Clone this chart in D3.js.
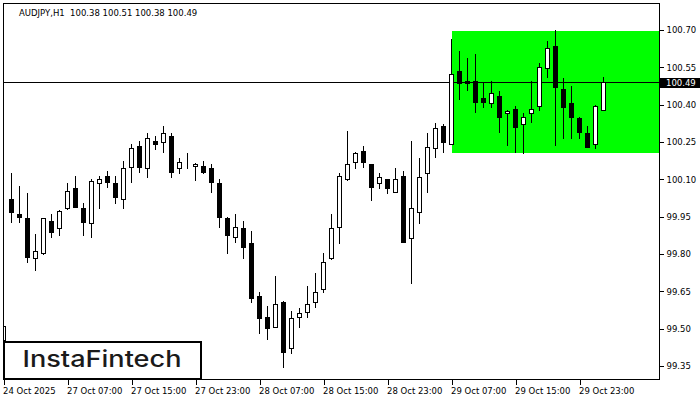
<!DOCTYPE html>
<html>
<head>
<meta charset="utf-8">
<script src="https://cdn.jsdelivr.net/npm/d3@7/dist/d3.min.js"></script>
<style>
  html, body { margin: 0; padding: 0; background: #ffffff; }
  svg { display: block; }
</style>
</head>
<body>
<div id="chart"></div>
<script>
// ---------- data ----------
const symbolTitle = "AUDJPY,H1  100.38 100.51 100.38 100.49";
const opens  = [99.455,100.020,99.961,99.945,99.783,99.803,99.933,99.903,99.984,100.064,
                99.984,99.923,100.084,100.113,100.084,100.020,100.151,100.234,100.144,100.254,
                100.251,100.274,100.144,100.161,100.154,100.154,100.144,100.084,99.943,99.870,
                99.903,99.843,99.631,99.548,99.508,99.608,99.421,99.548,99.568,99.608,
                99.658,99.783,99.910,100.100,100.171,100.214,100.160,100.084,100.100,100.050,
                100.113,99.863,99.970,100.124,100.225,100.314,100.241,100.535,100.494,100.494,
                100.427,100.405,100.435,100.365,100.381,100.321,100.365,100.395,100.546,100.636,
                100.462,100.405,100.345,100.285,100.241,100.38];
const highs  = [99.520,100.127,100.073,100.046,99.880,99.945,99.961,99.975,100.087,100.113,
                100.006,100.100,100.113,100.134,100.113,100.174,100.242,100.254,100.285,100.274,
                100.314,100.285,100.185,100.205,100.165,100.174,100.162,100.100,99.950,99.961,
                99.933,99.892,99.649,99.591,99.712,99.610,99.571,99.582,99.671,99.722,
                99.803,99.961,100.127,100.294,100.211,100.234,100.162,100.124,100.102,100.144,
                100.134,100.254,100.185,100.285,100.325,100.322,100.664,100.616,100.589,100.604,
                100.486,100.494,100.455,100.377,100.395,100.365,100.495,100.566,100.656,100.700,
                100.506,100.475,100.352,100.314,100.397,100.51];
const lows   = [99.440,99.930,99.930,99.769,99.737,99.800,99.870,99.876,99.982,99.988,
                99.876,99.870,99.984,100.070,100.004,99.984,100.091,100.131,100.111,100.222,
                100.211,100.111,100.124,100.144,100.097,100.124,100.050,99.910,99.803,99.849,
                99.783,99.608,99.481,99.457,99.506,99.347,99.401,99.508,99.548,99.588,
                99.649,99.781,99.843,100.098,100.144,100.151,100.017,100.064,100.044,100.048,
                99.847,99.682,99.923,100.050,100.191,100.211,100.240,100.423,100.459,100.372,
                100.392,100.392,100.291,100.238,100.211,100.205,100.332,100.379,100.512,100.238,
                100.265,100.265,100.265,100.229,100.225,100.38];
const closes = [99.511,99.970,99.950,99.789,99.811,99.943,99.890,99.973,100.053,99.990,
                99.930,100.092,100.100,100.091,100.030,100.144,100.225,100.151,100.265,100.241,
                100.285,100.131,100.171,100.163,100.162,100.131,100.091,99.950,99.876,99.910,
                99.829,99.622,99.542,99.502,99.598,99.408,99.542,99.562,99.599,99.649,
                99.769,99.903,100.113,100.160,100.205,100.171,100.070,100.111,100.064,100.100,
                99.849,99.984,100.111,100.231,100.305,100.251,100.522,100.486,100.486,100.412,
                100.412,100.446,100.352,100.375,100.311,100.352,100.381,100.553,100.626,100.472,
                100.392,100.352,100.291,100.231,100.395,100.49];
const timeTickIndex  = [0, 8, 16, 24, 32, 40, 48, 56, 64, 72];
const timeTickLabels = ["24 Oct 2025","27 Oct 07:00","27 Oct 15:00","27 Oct 23:00","28 Oct 07:00",
                        "28 Oct 15:00","28 Oct 23:00","29 Oct 07:00","29 Oct 15:00","29 Oct 23:00"];
const priceTicks = [100.70, 100.55, 100.40, 100.25, 100.10, 99.95, 99.80, 99.65, 99.50, 99.35];
const currentPrice = 100.49;
const zoneStartIndex = 56;
const zoneHigh = 100.696;
const zoneLow  = 100.206;
const brandText = "InstaFintech";

// ---------- layout ----------
const W = 700, H = 400;
const plot = { left: 3, top: 3, right: 659, bottom: 379 };
const axisFont = "'DejaVu Sans', Verdana, sans-serif";

const svg = d3.select("#chart").append("svg")
  .attr("width", W).attr("height", H)
  .attr("shape-rendering", "crispEdges");

const x = d3.scaleLinear().domain([0, opens.length - 1]).range([3.5, 3.5 + 8 * (opens.length - 1)]);
const y = d3.scaleLinear().domain([99.35, 100.70]).range([366, 30]);
const py = v => Math.round(y(v)) + 0.5;

svg.append("defs").append("clipPath").attr("id", "plotClip")
  .append("rect").attr("x", plot.left).attr("y", plot.top)
  .attr("width", plot.right - plot.left).attr("height", plot.bottom - plot.top);

const g = svg.append("g").attr("clip-path", "url(#plotClip)");

// green zone
g.append("rect")
  .attr("x", Math.round(x(zoneStartIndex)))
  .attr("y", Math.round(y(zoneHigh)))
  .attr("width", plot.right - Math.round(x(zoneStartIndex)))
  .attr("height", Math.round(y(zoneLow)) - Math.round(y(zoneHigh)))
  .attr("fill", "#00ff00");

// current price line
g.append("line")
  .attr("x1", plot.left).attr("x2", plot.right)
  .attr("y1", py(currentPrice)).attr("y2", py(currentPrice))
  .attr("stroke", "#000").attr("stroke-width", 1);

const candles = opens.map((o, i) => ({ i, o, h: highs[i], l: lows[i], c: closes[i] }));

// wicks
g.selectAll("line.wick").data(candles).join("line")
  .attr("class", "wick")
  .attr("x1", d => x(d.i)).attr("x2", d => x(d.i))
  .attr("y1", d => Math.round(y(d.h))).attr("y2", d => Math.round(y(d.l)) + 1)
  .attr("stroke", "#000").attr("stroke-width", 1);

// bodies
g.selectAll("rect.body").data(candles).join("rect")
  .attr("class", "body")
  .attr("x", d => x(d.i) - 2)
  .attr("width", 4)
  .attr("y", d => py(Math.max(d.o, d.c)))
  .attr("height", d => Math.max(py(Math.min(d.o, d.c)) - py(Math.max(d.o, d.c)), 0))
  .attr("fill", d => d.c >= d.o ? "#fff" : "#000")
  .attr("stroke", "#000").attr("stroke-width", 1);

// frame
svg.append("rect")
  .attr("x", plot.left + 0.5).attr("y", plot.top + 0.5)
  .attr("width", plot.right - plot.left).attr("height", plot.bottom - plot.top)
  .attr("fill", "none").attr("stroke", "#000").attr("stroke-width", 1);

// right axis
const yAxis = d3.axisRight(y).tickValues(priceTicks).tickFormat(d3.format(".2f"))
  .tickSize(4).tickPadding(3);
const ya = svg.append("g").attr("transform", `translate(${plot.right + 0.5},0)`).call(yAxis);
ya.select(".domain").remove();
ya.selectAll(".tick line").attr("stroke", "#000");
ya.selectAll(".tick text").attr("fill", "#000").style("font-family", axisFont).style("font-size", "8.5px");

// bottom axis
const xAxis = d3.axisBottom(x).tickValues(timeTickIndex)
  .tickFormat((d, k) => timeTickLabels[k]).tickSize(5).tickPadding(3);
const xa = svg.append("g").attr("transform", `translate(0,${plot.bottom + 0.5})`).call(xAxis);
xa.select(".domain").remove();
xa.selectAll(".tick line").attr("stroke", "#000");
xa.selectAll(".tick text").attr("fill", "#000").attr("text-anchor", "start").attr("x", -1)
  .style("font-family", axisFont).style("font-size", "8.5px");

// current price label
const cpY = py(currentPrice);
svg.append("rect").attr("x", plot.right + 1).attr("y", cpY - 5).attr("width", W - plot.right - 1).attr("height", 10)
  .attr("fill", "#000");
svg.append("text").attr("x", 666).attr("y", cpY + 3.2)
  .attr("fill", "#fff").style("font-family", axisFont).style("font-size", "8.5px")
  .text(d3.format(".2f")(currentPrice));

// title
svg.append("text").attr("x", 19).attr("y", 15.5)
  .attr("fill", "#000").style("font-family", axisFont).style("font-size", "8.5px")
  .attr("xml:space", "preserve").style("white-space", "pre")
  .text(symbolTitle);

// brand box
svg.append("rect").attr("x", 4).attr("y", 342).attr("width", 197).attr("height", 37)
  .attr("fill", "#fff").attr("stroke", "#000").attr("stroke-width", 2);
svg.append("text").attr("x", 22.5).attr("y", 367)
  .attr("fill", "#1a1a1a").attr("shape-rendering", "auto")
  .style("font-family", "Inter, 'Open Sans', sans-serif").style("font-weight", 500).style("font-size", "22.5px")
  .attr("textLength", 159).attr("lengthAdjust", "spacingAndGlyphs")
  .text(brandText);
</script>
</body>
</html>
